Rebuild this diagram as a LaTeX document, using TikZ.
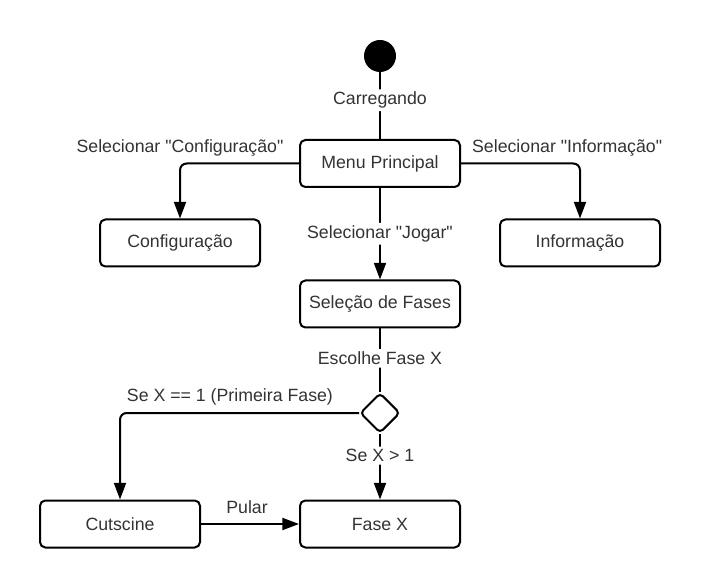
\documentclass[tikz,border=0pt]{standalone}
\usepackage{fontspec}
\setmainfont{Liberation Sans}[Ligatures=TeXOff]
\usetikzlibrary{arrows.meta,shapes.geometric}
\definecolor{txtgray}{HTML}{333333}

\begin{document}
\begin{tikzpicture}[x=0.75pt,y=-0.75pt,
    font=\fontsize{13.3}{16}\selectfont,
    state/.style={draw,line width=1.5pt,rounded corners=4pt,minimum width=120pt,minimum height=35.25pt,text=txtgray},
    choice/.style={draw,diamond,line width=1.5pt,rounded corners=3pt,minimum width=30pt,minimum height=30pt,inner sep=0pt},
    flow/.style={line width=1.5pt,rounded corners=5pt},
    arr/.style={flow,-{Triangle[length=12.5pt,width=9pt]}},
    lbl/.style={text=txtgray,fill=white,inner sep=2pt},
    toplbl/.style={text=txtgray,inner sep=0pt,yshift=12pt}]
    \useasboundingbox (0,0) rectangle (704,588);
    \node[circle,fill,inner sep=0pt,minimum size=24pt] (start) at (380,56) {};
    \node[state] (menu) at (380,163.5) {Menu Principal};
    \node[state] (config) at (180,243) {Configuração};
    \node[state] (info) at (580,243) {Informação};
    \node[state] (fases) at (380,304) {Seleção de Fases};
    \node[choice] (dec) at (380,413) {};
    \node[state] (cut) at (120,524) {Cutscine};
    \node[state] (fase) at (380,524) {Fase X};
    \draw[flow] (start) -- (menu) node[lbl,pos=0.42] (lcar) {Carregando};
    \draw[arr] (menu.west) -| (config.north) node[toplbl,pos=0.5] (lconf) {Selecionar "Configuração"};
    \draw[arr] (menu.east) -| (info.north) node[toplbl,pos=0.446] (linfo) {Selecionar "Informação"};
    \draw[arr] (menu) -- (fases) node[lbl,pos=0.5] (ljog) {Selecionar "Jogar"};
    \draw[flow] (fases) -- (dec) node[lbl,pos=0.47] (lesc) {Escolhe Fase X};
    \draw[arr] (dec.west) -| (cut.north) node[toplbl,pos=0.27] (lum) {Se X == 1 (Primeira Fase)};
    \draw[arr] (dec) -- (fase) node[lbl,pos=0.33] (lmaior) {Se X > 1};
    \draw[arr] (cut) -- (fase) node[toplbl,pos=0.47,yshift=1pt] (lpul) {Pular};
  \end{tikzpicture}
\end{document}
